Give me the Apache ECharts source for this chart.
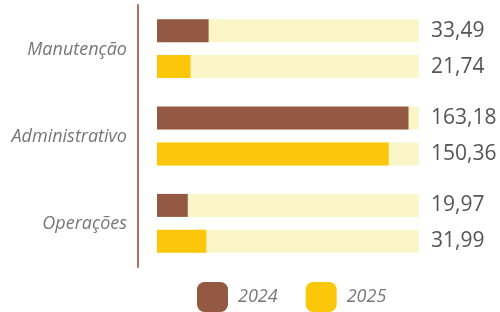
<!DOCTYPE html>
<html>
<head>
<meta charset="utf-8">
<script src="https://cdn.jsdelivr.net/npm/echarts@6/dist/echarts.min.js"></script>
<style>
  html, body { margin: 0; padding: 0; background: #fff; }
  #chart { width: 500px; height: 312px; }
</style>
</head>
<body>
<div id="chart"></div>
<script>
var categories = ["Manutenção", "Administrativo", "Operações"];
var years = ["2024", "2025"];
var values2024 = [33.49, 163.18, 19.97];
var values2025 = [21.74, 150.36, 31.99];
var axisMax = 170;

var brown = "#935942";
var yellow = "#fcc70a";
var track = "#faf6c8";

function fmt(v) {
  return v.toFixed(2).replace(".", ",");
}

function bgLabel(vals) {
  return {
    show: true,
    position: "right",
    distance: 12,
    fontFamily: "Open Sans",
    fontSize: 21,
    color: "#555",
    formatter: function (p) {
      return fmt(vals[p.dataIndex]);
    },
  };
}

var myChart = echarts.init(document.getElementById("chart"));
var option = {
  animation: false,
  grid: {
    left: 157,
    right: 81,
    top: 5,
    bottom: 45,
  },
  legend: {
    data: years,
    top: 282,
    left: 197,
    padding: 0,
    icon: "roundRect",
    itemWidth: 31,
    itemHeight: 30,
    itemGap: 28,
    textStyle: {
      fontFamily: "Open Sans",
      fontStyle: "italic",
      fontSize: 18,
      color: "#777",
      padding: [0, 0, 0, 5],
    },
  },
  xAxis: {
    type: "value",
    min: 0,
    max: axisMax,
    show: false,
  },
  yAxis: [
    {
      type: "category",
      inverse: true,
      data: categories,
      offset: 19,
      axisTick: { show: false },
      axisLine: {
        onZero: false,
        lineStyle: { color: "#a9735c", width: 2 },
      },
      axisLabel: {
        margin: 11,
        verticalAlign: "top",
        padding: [-8, 0, 0, 0],
        fontFamily: "Open Sans",
        fontStyle: "italic",
        fontSize: 18,
        color: "#777",
      },
    },
    {
      // eixo escondido para as barras de fundo
      type: "category",
      inverse: true,
      data: categories,
      show: false,
    },
  ],
  series: [
    {
      name: "bg2024",
      type: "bar",
      yAxisIndex: 1,
      barWidth: 23,
      barGap: "56%",
      z: 1,
      silent: true,
      itemStyle: { color: track },
      label: bgLabel(values2024),
      data: categories.map(function () { return axisMax; }),
    },
    {
      name: "bg2025",
      type: "bar",
      yAxisIndex: 1,
      barWidth: 23,
      barGap: "56%",
      z: 1,
      silent: true,
      itemStyle: { color: track },
      label: bgLabel(values2025),
      data: categories.map(function () { return axisMax; }),
    },
    {
      name: "2024",
      type: "bar",
      yAxisIndex: 0,
      barWidth: 23,
      barGap: "56%",
      z: 3,
      itemStyle: { color: brown },
      data: values2024,
    },
    {
      name: "2025",
      type: "bar",
      yAxisIndex: 0,
      barWidth: 23,
      barGap: "56%",
      z: 3,
      itemStyle: { color: yellow },
      data: values2025,
    },
  ],
};
myChart.setOption(option);
</script>
</body>
</html>
